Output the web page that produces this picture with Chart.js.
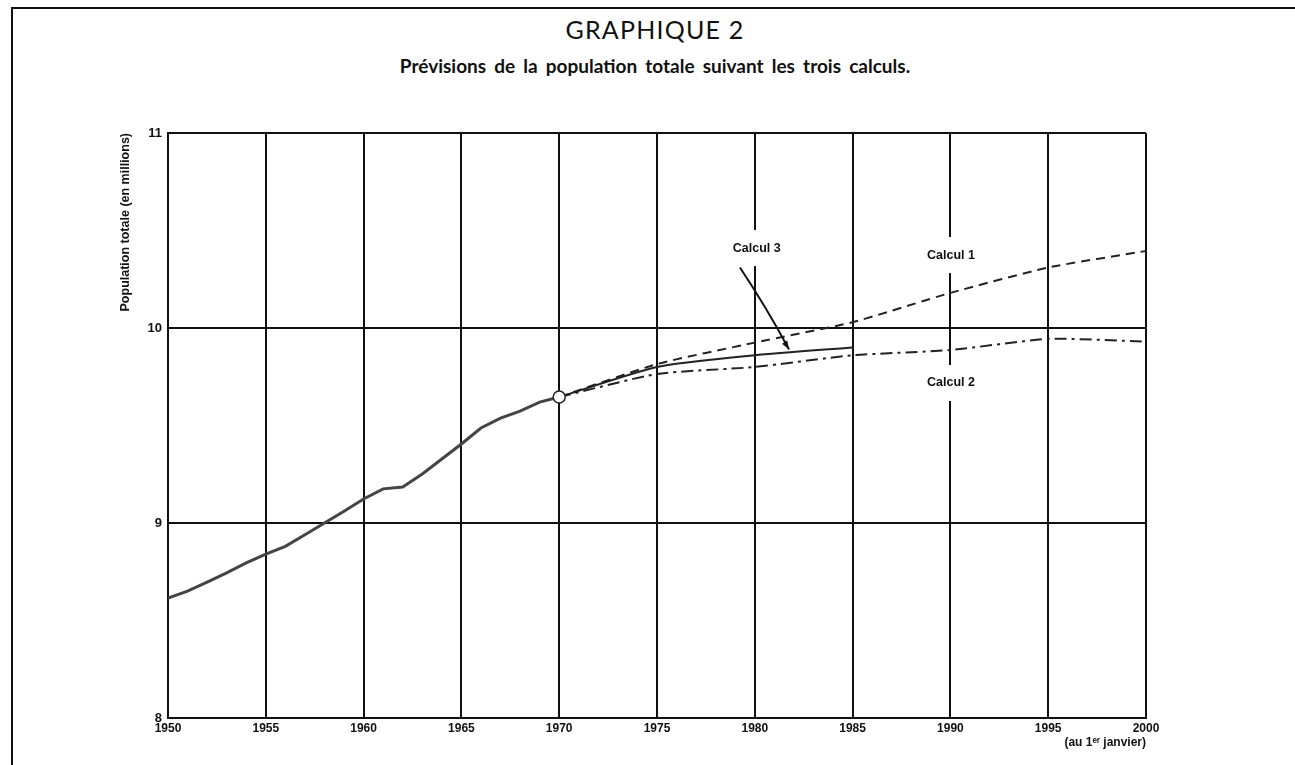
<!DOCTYPE html>
<html>
<head>
<meta charset="utf-8">
<script src="https://cdn.jsdelivr.net/npm/chart.js@4"></script>
<style>
  html, body { margin: 0; padding: 0; background: #fff; }
  #wrap { position: relative; width: 1295px; height: 765px; overflow: hidden; }
  #frame { position: absolute; left: 11px; top: 7px; width: 1400px; height: 900px;
           border-left: 2px solid #111; border-top: 2px solid #111; }
  .ttl { position: absolute; left: 0; width: 1310px; text-align: center; color: #111; font-family: Lato, "Noto Sans", sans-serif; }
  #t1 { top: 14px; font-size: 25px; font-weight: 400; letter-spacing: 1.2px; }
  #t2 { top: 54px; font-size: 19px; font-weight: 700; word-spacing: 3.5px; }
  canvas { position: absolute; left: 0; top: 0; }
</style>
</head>
<body>
<div id="wrap">
  <div id="frame"></div>
  <div class="ttl" id="t1">GRAPHIQUE 2</div>
  <div class="ttl" id="t2">Prévisions de la population totale suivant les trois calculs.</div>
  <canvas id="chart" width="1295" height="765"></canvas>
</div>
<script>
// Population totale (millions)

// observed, 1st January each year
const histYears = [1950, 1951, 1952, 1953, 1954, 1955, 1956, 1957, 1958, 1959, 1960,
                   1961, 1962, 1963, 1964, 1965, 1966, 1967, 1968, 1969, 1970];
const histValues = [8.615, 8.651, 8.697, 8.744, 8.795, 8.84, 8.88, 8.94, 9.0, 9.06, 9.123,
                    9.175, 9.185, 9.251, 9.328, 9.405, 9.487, 9.538, 9.574, 9.62, 9.646];

// projections
const projYears = [1970, 1975, 1980, 1985, 1990, 1995, 2000];
const calcul1 = [9.646, 9.815, 9.925, 10.03, 10.18, 10.31, 10.395];
const calcul2 = [9.646, 9.764, 9.80, 9.86, 9.887, 9.944, 9.93];
const calcul3 = [9.646, 9.80, 9.86, 9.90];

const xTicks = [1950, 1955, 1960, 1965, 1970, 1975, 1980, 1985, 1990, 1995, 2000];
const yTicks = [8, 9, 10, 11];

// line labels, in data units
const labelTexts = ['Calcul 1', 'Calcul 2', 'Calcul 3'];
const labelX = [1990.03, 1990.03, 1980.1];
const labelY = [10.374, 9.718, 10.41];
// arrow from "Calcul 3" down to its line
const arrowFrom = [1979.24, 10.31];
const arrowTo = [1981.75, 9.89];

const pts = (xs, ys) => ys.map((v, i) => ({ x: xs[i], y: v }));

const labelFont = 'bold 12.5px "Liberation Sans", Arial, sans-serif';

const notes = {
  id: 'notes',
  beforeDatasetsDraw(chart) {
    // white patches: the grid lines are broken behind the labels
    const { ctx, scales: { x, y } } = chart;
    ctx.save();
    ctx.fillStyle = '#fff';
    labelTexts.forEach((t, i) => {
      const px = x.getPixelForValue(labelX[i]);
      const py = y.getPixelForValue(labelY[i]);
      ctx.fillRect(px - 32, py - 18, 64, 36);
    });
    ctx.restore();
  },
  afterDatasetsDraw(chart) {
    const { ctx, scales: { x, y } } = chart;
    ctx.save();
    ctx.fillStyle = '#111';
    ctx.font = labelFont;
    ctx.textAlign = 'center';
    ctx.textBaseline = 'middle';
    labelTexts.forEach((t, i) => {
      ctx.fillText(t, x.getPixelForValue(labelX[i]), y.getPixelForValue(labelY[i]));
    });
    const x0 = x.getPixelForValue(arrowFrom[0]), y0 = y.getPixelForValue(arrowFrom[1]);
    const x1 = x.getPixelForValue(arrowTo[0]), y1 = y.getPixelForValue(arrowTo[1]);
    ctx.strokeStyle = '#111';
    ctx.lineWidth = 2;
    ctx.beginPath();
    ctx.moveTo(x0, y0);
    ctx.quadraticCurveTo((x0 + x1) / 2 + 2, (y0 + y1) / 2 - 1, x1, y1);
    ctx.stroke();
    const a = Math.atan2(y1 - y0, x1 - x0);
    ctx.beginPath();
    ctx.moveTo(x1, y1);
    ctx.lineTo(x1 - 9 * Math.cos(a - 0.35), y1 - 9 * Math.sin(a - 0.35));
    ctx.lineTo(x1 - 9 * Math.cos(a + 0.35), y1 - 9 * Math.sin(a + 0.35));
    ctx.closePath();
    ctx.fill();
    ctx.restore();
  }
};

new Chart(document.getElementById('chart'), {
  type: 'line',
  data: {
    datasets: [
      {
        label: 'Population observée',
        data: pts(histYears, histValues),
        borderColor: '#444',
        borderWidth: 3,
        pointRadius: histYears.map(yr => yr === 1970 ? 6 : 0),
        pointBackgroundColor: '#fff',
        pointBorderColor: '#222',
        pointBorderWidth: 1.5,
        order: 0
      },
      {
        label: 'Calcul 1',
        data: pts(projYears, calcul1),
        borderColor: '#222',
        borderWidth: 2,
        borderDash: [9, 6],
        pointRadius: 0,
        tension: 0.2,
        order: 1
      },
      {
        label: 'Calcul 2',
        data: pts(projYears, calcul2),
        borderColor: '#222',
        borderWidth: 2,
        borderDash: [12, 5, 3, 5],
        pointRadius: 0,
        tension: 0.2,
        order: 1
      },
      {
        label: 'Calcul 3',
        data: pts(projYears, calcul3),
        borderColor: '#222',
        borderWidth: 2,
        pointRadius: 0,
        tension: 0.2,
        order: 1
      }
    ]
  },
  options: {
    responsive: false,
    animation: false,
    layout: { padding: { left: 114, right: 149, top: 133, bottom: 7 } },
    plugins: { legend: { display: false }, tooltip: { enabled: false } },
    scales: {
      x: {
        type: 'linear',
        min: 1950,
        max: 2000,
        afterFit: s => { s.height = 40; },
        afterBuildTicks: s => { s.ticks = xTicks.map(v => ({ value: v })); },
        ticks: {
          padding: 3,
          color: '#111',
          font: { family: '"Liberation Sans", Arial, sans-serif', size: 12, weight: 'bold' },
          callback: v => String(v),
          maxRotation: 0,
          autoSkip: false
        },
        grid: { color: '#111', lineWidth: 2, drawTicks: false },
        border: { color: '#111', width: 2 },
        title: {
          display: true,
          text: '(au 1ᵉʳ janvier)',
          align: 'end',
          color: '#111',
          padding: { top: 0, bottom: 8 },
          font: { family: '"Liberation Sans", Arial, sans-serif', size: 12, weight: 'bold' }
        }
      },
      y: {
        min: 8,
        max: 11,
        afterFit: s => { s.width = 54; },
        afterBuildTicks: s => { s.ticks = yTicks.map(v => ({ value: v })); },
        ticks: {
          padding: 6,
          color: '#111',
          font: { family: '"Liberation Sans", Arial, sans-serif', size: 13, weight: 'bold' }
        },
        grid: { color: '#111', lineWidth: 2, drawTicks: false },
        border: { color: '#111', width: 2 },
        title: {
          display: true,
          text: 'Population totale (en millions)',
          align: 'end',
          color: '#111',
          padding: { top: 4, bottom: 0 },
          font: { family: '"Liberation Sans", Arial, sans-serif', size: 12.5, weight: 'bold' }
        }
      }
    }
  },
  plugins: [notes]
});
</script>
</body>
</html>
